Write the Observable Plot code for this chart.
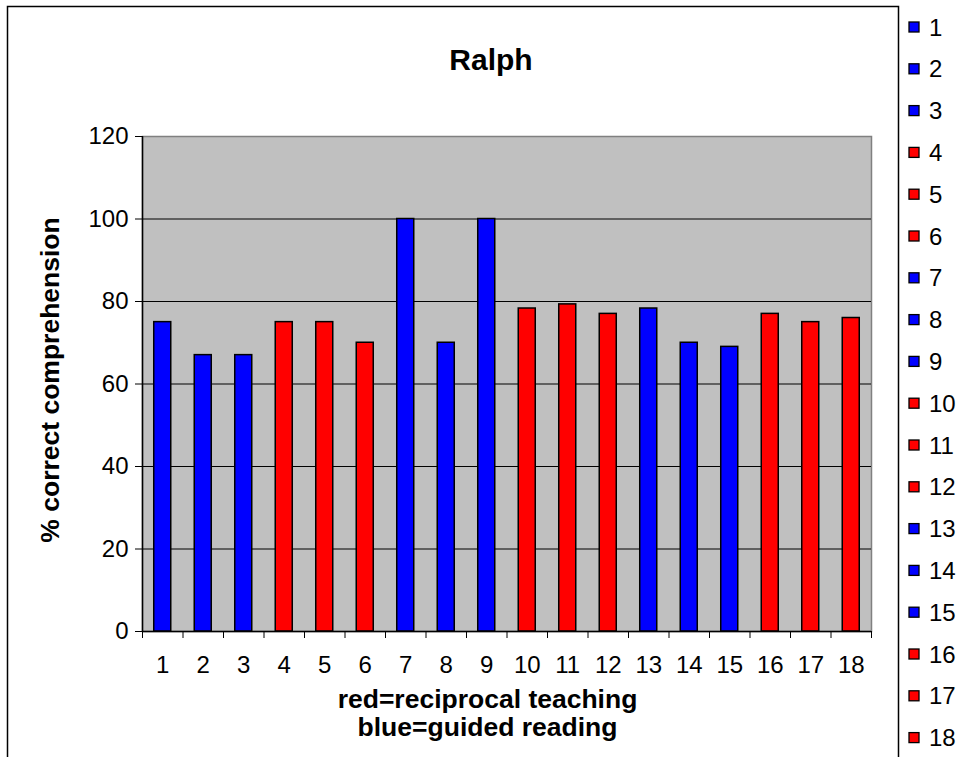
<!DOCTYPE html>
<html>
<head>
<meta charset="utf-8">
<script src="https://cdn.jsdelivr.net/npm/d3@7"></script>
<script src="https://cdn.jsdelivr.net/npm/@observablehq/plot@0.6"></script>
<style>
  html, body { margin: 0; padding: 0; background: white; }
  svg { display: block; }
</style>
</head>
<body>
<div id="chart"></div>
<script>
// ---- data ----
const categories = [1, 2, 3, 4, 5, 6, 7, 8, 9, 10, 11, 12, 13, 14, 15, 16, 17, 18];
const values = [75, 67, 67, 75, 75, 70, 100, 70, 100, 78.3, 79.3, 77, 78.3, 70, 69, 77, 75, 76];
const methods = ["guided", "guided", "guided", "reciprocal", "reciprocal", "reciprocal",
                 "guided", "guided", "guided", "reciprocal", "reciprocal", "reciprocal",
                 "guided", "guided", "guided", "reciprocal", "reciprocal", "reciprocal"];
const methodNames = ["guided", "reciprocal"];
const methodColors = ["#0000FF", "#FF0000"];
const yTicks = [0, 20, 40, 60, 80, 100, 120];
const gridValues = [20, 40, 60, 80, 100];
const titleText = "Ralph";
const yTitle = "% correct comprehension";
const xTitle = "red=reciprocal teaching\nblue=guided reading";

const data = categories.map((c, i) => ({cat: c, value: values[i], method: methods[i]}));
const boundaries = d3.range(0.5, categories.length + 1, 1);

const W = 960, H = 757;
const font = "'Liberation Sans', Arial, Helvetica, sans-serif";

const chart = Plot.plot({
  width: W,
  height: H,
  marginLeft: 142,
  marginRight: 89,
  marginTop: 136,
  marginBottom: 126,
  style: {fontFamily: font, fontSize: "24px", background: "white", color: "black", overflow: "visible"},
  x: {domain: [0.5, categories.length + 0.5], axis: null},
  y: {domain: [0, 120], axis: null},
  color: {domain: methodNames, range: methodColors},
  marks: [
    Plot.frame({fill: "#C0C0C0", stroke: "#808080", strokeWidth: 1.5}),
    Plot.ruleY(gridValues, {stroke: "black", strokeWidth: 1}),
    Plot.rectY(data, {
      x1: d => d.cat - 0.21,
      x2: d => d.cat + 0.21,
      y1: 0,
      y2: "value",
      fill: "method",
      stroke: "black",
      strokeWidth: 1.5
    }),
    Plot.ruleX([0.5], {stroke: "black", strokeWidth: 1.5}),
    Plot.ruleY([0], {stroke: "black", strokeWidth: 1.5}),
    Plot.axisY({ticks: yTicks, tickSize: 7, tickPadding: 7, fontSize: 24, label: null, stroke: "black"}),
    Plot.axisX({ticks: boundaries, tickSize: 7, tickFormat: () => "", label: null, stroke: "black"}),
    Plot.axisX({ticks: categories, tickSize: 0, tickPadding: 24, fontSize: 24, label: null}),
    Plot.text([titleText], {frameAnchor: "top", dx: -16, dy: -88, fontSize: 30, fontWeight: "bold", fill: "black"}),
    Plot.text([yTitle], {frameAnchor: "left", textAnchor: "middle", dx: -92, dy: -4, rotate: -90, fontSize: 26.5, fontWeight: "bold", fill: "black"}),
    Plot.text([xTitle], {frameAnchor: "bottom", lineAnchor: "top", dx: -19.5, dy: 56, lineHeight: 1.08, fontSize: 26.5, fontWeight: "bold", fill: "black"})
  ]
});

// outer chart border and legend
const svg = d3.select(chart);
svg.append("path")
  .attr("d", `M7.5,${H} L7.5,6.5 L898.5,6.5 L898.5,${H}`)
  .attr("fill", "none")
  .attr("stroke", "black")
  .attr("stroke-width", 1.5);

const legend = svg.append("g")
  .attr("font-family", font)
  .attr("font-size", 24)
  .attr("text-anchor", "start");
const colorOf = m => methodColors[methodNames.indexOf(m)];
const rowY = i => 27 + i * 41.8;
legend.selectAll("rect")
  .data(data)
  .join("rect")
  .attr("x", 909)
  .attr("y", (d, i) => rowY(i) - 5)
  .attr("width", 10)
  .attr("height", 10)
  .attr("fill", d => colorOf(d.method))
  .attr("stroke", "black")
  .attr("stroke-width", 1.3);
legend.selectAll("text")
  .data(data)
  .join("text")
  .attr("x", 929)
  .attr("y", (d, i) => rowY(i))
  .attr("dy", "0.36em")
  .attr("text-anchor", "start")
  .attr("fill", "black")
  .text(d => d.cat);

document.getElementById("chart").appendChild(chart);
</script>
</body>
</html>
